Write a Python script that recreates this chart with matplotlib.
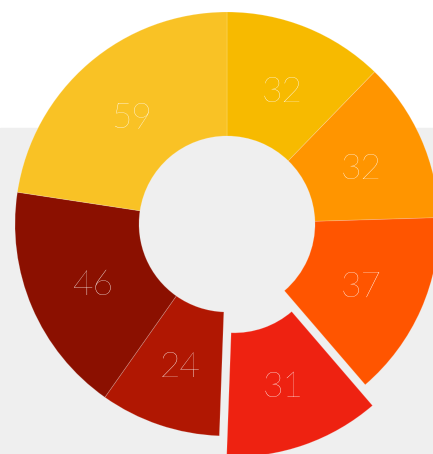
import matplotlib
matplotlib.use("Agg")
import matplotlib.pyplot as plt
from matplotlib.patches import Rectangle

# slices, clockwise from 12 o'clock
values = [32, 32, 37, 31, 24, 46, 59]
colors = ['#F7BA00', '#FF9500', '#FF5500', '#EE2211', '#B01702', '#8B1000', '#F9C225']
explode = [0, 0, 0, 0.104, 0, 0, 0]  # fraction of the radius

W, H = 433, 454
R = 212
fig = plt.figure(figsize=(W / 100, H / 100), dpi=100, facecolor='white')
ax = fig.add_axes([0, 0, 1, 1])

# grey band behind the lower part of the chart
ax.add_patch(Rectangle((0, 0), W, H - 128, color='#EFEFEF', zorder=0))

total = sum(values)
# pie's explode is in data units, so scale by the radius
wedges, texts, autotexts = ax.pie(
    values, colors=colors, explode=[e * R for e in explode],
    center=(227, H - 224), radius=R,
    startangle=90, counterclock=False,
    wedgeprops=dict(width=124, edgecolor=(1, 1, 1, 0.2), linewidth=0.6),
    autopct=lambda p: '%d' % round(p * total / 100), pctdistance=0.69,
    textprops=dict(color='white', fontsize=25.5,
                   family=['Lato', 'DejaVu Sans'], fontweight='light'),
    frame=False)
for w in wedges:
    w.set_zorder(2)
# digits have no descender, nudge them down so they sit centred
for t in autotexts:
    x, y = t.get_position()
    t.set_position((x, y - 4))

ax.set_xlim(0, W)
ax.set_ylim(0, H)
ax.set_aspect('equal')
ax.axis('off')

fig.savefig('out.png', dpi=100, facecolor='white')
